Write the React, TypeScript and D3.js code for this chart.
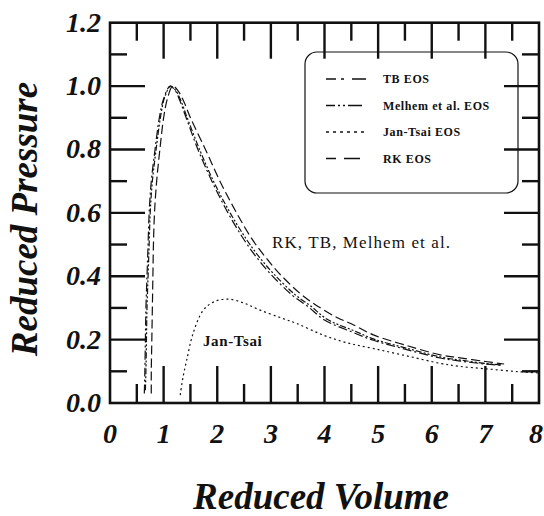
import React from "react";
import * as d3 from "d3";

// Reduced volume (v) and reduced pressure (p)
const rkV = [0.77, 0.77, 0.78, 0.79, 0.8, 0.81, 0.83, 0.87, 0.93, 1.0, 1.07, 1.17, 1.27, 1.38, 1.5, 1.78, 2.05, 2.36, 2.65, 2.9, 3.15, 3.55, 3.85, 4.23, 4.5, 4.91, 5.5, 6.16, 6.5, 7.0, 7.35];
const rkP = [0.03, 0.1, 0.2, 0.3, 0.4, 0.5, 0.6, 0.7, 0.8, 0.9, 0.96, 1.0, 0.985, 0.95, 0.9, 0.8, 0.7, 0.6, 0.517, 0.46, 0.41, 0.345, 0.308, 0.27, 0.25, 0.215, 0.183, 0.152, 0.143, 0.131, 0.123];

const tbV = [0.64, 0.65, 0.66, 0.67, 0.69, 0.71, 0.73, 0.77, 0.84, 0.92, 1.0, 1.12, 1.22, 1.3, 1.42, 1.64, 1.9, 2.2, 2.5, 2.75, 3.0, 3.4, 3.7, 4.0, 4.5, 4.91, 5.5, 6.16, 6.5, 7.0, 7.3];
const tbP = [0.03, 0.1, 0.2, 0.3, 0.4, 0.5, 0.6, 0.7, 0.8, 0.9, 0.96, 1.0, 0.985, 0.955, 0.9, 0.8, 0.7, 0.6, 0.515, 0.456, 0.406, 0.34, 0.303, 0.262, 0.225, 0.198, 0.17, 0.142, 0.133, 0.123, 0.119];

const mhV = [0.66, 0.67, 0.68, 0.69, 0.71, 0.73, 0.75, 0.79, 0.86, 0.94, 1.02, 1.13, 1.23, 1.32, 1.44, 1.67, 1.93, 2.24, 2.55, 2.8, 3.05, 3.45, 3.75, 4.05, 4.55, 4.95, 5.55, 6.2, 6.55, 7.05, 7.3];
const mhP = [0.04, 0.1, 0.2, 0.3, 0.4, 0.5, 0.6, 0.7, 0.8, 0.9, 0.965, 1.0, 0.985, 0.955, 0.9, 0.8, 0.7, 0.6, 0.515, 0.457, 0.408, 0.342, 0.305, 0.264, 0.228, 0.2, 0.172, 0.144, 0.135, 0.124, 0.12];

const jtV = [1.31, 1.36, 1.43, 1.55, 1.74, 1.95, 2.21, 2.5, 2.8, 3.2, 3.48, 3.98, 4.42, 4.91, 5.5, 6.16, 6.5, 7.0, 7.6, 8.0];
const jtP = [0.025, 0.08, 0.135, 0.22, 0.293, 0.32, 0.328, 0.315, 0.293, 0.268, 0.251, 0.214, 0.19, 0.172, 0.15, 0.125, 0.116, 0.108, 0.099, 0.095];

const xTicks = [0, 1, 2, 3, 4, 5, 6, 7, 8];
const yTicks = [0.0, 0.2, 0.4, 0.6, 0.8, 1.0, 1.2];
const legendLabels = ["TB EOS", "Melhem et al. EOS", "Jan-Tsai EOS", "RK EOS"];

const W = 544, H = 516;
const L = 110, R = 539, T = 22.7, B = 403;

export default function App() {
  const x = d3.scaleLinear().domain([0, 8]).range([L, R]);
  const y = d3.scaleLinear().domain([0, 1.2]).range([B, T]);
  const lineX = (vs: number[], ps: number[]) =>
    d3.line<number>().x((_, i) => x(vs[i])).y((_, i) => y(ps[i])).curve(d3.curveCatmullRom)(vs.map((_, i) => i)) || "";

  const series = [
    { d: lineX(tbV, tbP), dash: "9,3,2,3" },
    { d: lineX(mhV, mhP), dash: "6,2,2,2,2,2" },
    { d: lineX(jtV, jtP), dash: "2,3" },
    { d: lineX(rkV, rkP), dash: "9,4" },
  ];

  const halfX = d3.range(0, 8.01, 0.5);
  const tenthY = d3.range(0, 12.01, 1).map((k) => k / 10);
  const serif = "Liberation Serif";

  const legendX0 = 326, legendX1 = 368, legendRow0 = 79, legendStep = 26.5;
  const legendDash = ["10,5,3,8,14", "9,3,2,3,2,3,14", "3,4", "10,8,16"];

  return (
    <svg width={W} height={H} style={{ position: "absolute", left: 0, top: 0, background: "#fff" }}>
      <rect x={0} y={0} width={W} height={H} fill="#fff" />
      <rect x={305} y={52} width={213} height={141} rx={12} ry={12} fill="none" stroke="#111" strokeWidth={1.2} />
      {halfX.map((v) => {
        const major = Math.abs(v - Math.round(v)) < 1e-6;
        if (v === 0 || v === 8) return null;
        return (
          <g key={"xt" + v}>
            <line x1={x(v)} x2={x(v)} y1={B} y2={B - (major ? 37 : 19)} stroke="#111" strokeWidth={2.4} />
            <line x1={x(v)} x2={x(v)} y1={T} y2={T + (major ? 36 : 18)} stroke="#111" strokeWidth={2.4} />
          </g>
        );
      })}
      {tenthY.map((p, i) => {
        if (i === 0 || i === 12) return null;
        const major = i % 2 === 0;
        return (
          <g key={"yt" + i}>
            <line x1={L} x2={L + (major ? 35 : 17)} y1={y(p)} y2={y(p)} stroke="#111" strokeWidth={2.4} />
            <line x1={R} x2={R - (major ? 35 : 17)} y1={y(p)} y2={y(p)} stroke="#111" strokeWidth={2.4} />
          </g>
        );
      })}
      <rect x={L} y={T} width={R - L} height={B - T} fill="none" stroke="#111" strokeWidth={2.6} />
      {series.map((s, i) => (
        <path key={"s" + i} d={s.d} fill="none" stroke="#111" strokeWidth={1.2} strokeDasharray={s.dash} />
      ))}
      {yTicks.map((p) => (
        <text key={"yl" + p} x={101} y={y(p) + 9} textAnchor="end" fontFamily={serif} fontWeight="bold" fontStyle="italic" fontSize={28} fill="#111">
          {p.toFixed(1)}
        </text>
      ))}
      {xTicks.map((v) => (
        <text key={"xl" + v} x={v === 8 ? x(v) - 3 : x(v)} y={443} textAnchor="middle" fontFamily={serif} fontWeight="bold" fontStyle="italic" fontSize={28} fill="#111">
          {v}
        </text>
      ))}
      <text x={321} y={509} textAnchor="middle" fontFamily={serif} fontWeight="bold" fontStyle="italic" fontSize={37} fill="#111">
        Reduced Volume
      </text>
      <text transform="translate(37,219) rotate(-90)" textAnchor="middle" fontFamily={serif} fontWeight="bold" fontStyle="italic" fontSize={37} fill="#111">
        Reduced Pressure
      </text>
      <text x={272} y={248} fontFamily={serif} fontSize={17} letterSpacing={1.1} fill="#111">RK, TB, Melhem et al.</text>
      <text x={203} y={346} fontFamily={serif} fontWeight="bold" fontSize={15} letterSpacing={0.6} fill="#111">Jan-Tsai</text>
      {legendLabels.map((lab, i) => {
        const yy = legendRow0 + i * legendStep;
        return (
          <g key={"lg" + i}>
            <line x1={legendX0} x2={legendX1} y1={yy} y2={yy} stroke="#111" strokeWidth={1.3} strokeDasharray={legendDash[i]} />
            <text x={383} y={yy + 4} fontFamily={serif} fontWeight="bold" fontSize={12} letterSpacing={0.6} fill="#111">{lab}</text>
          </g>
        );
      })}
    </svg>
  );
}
